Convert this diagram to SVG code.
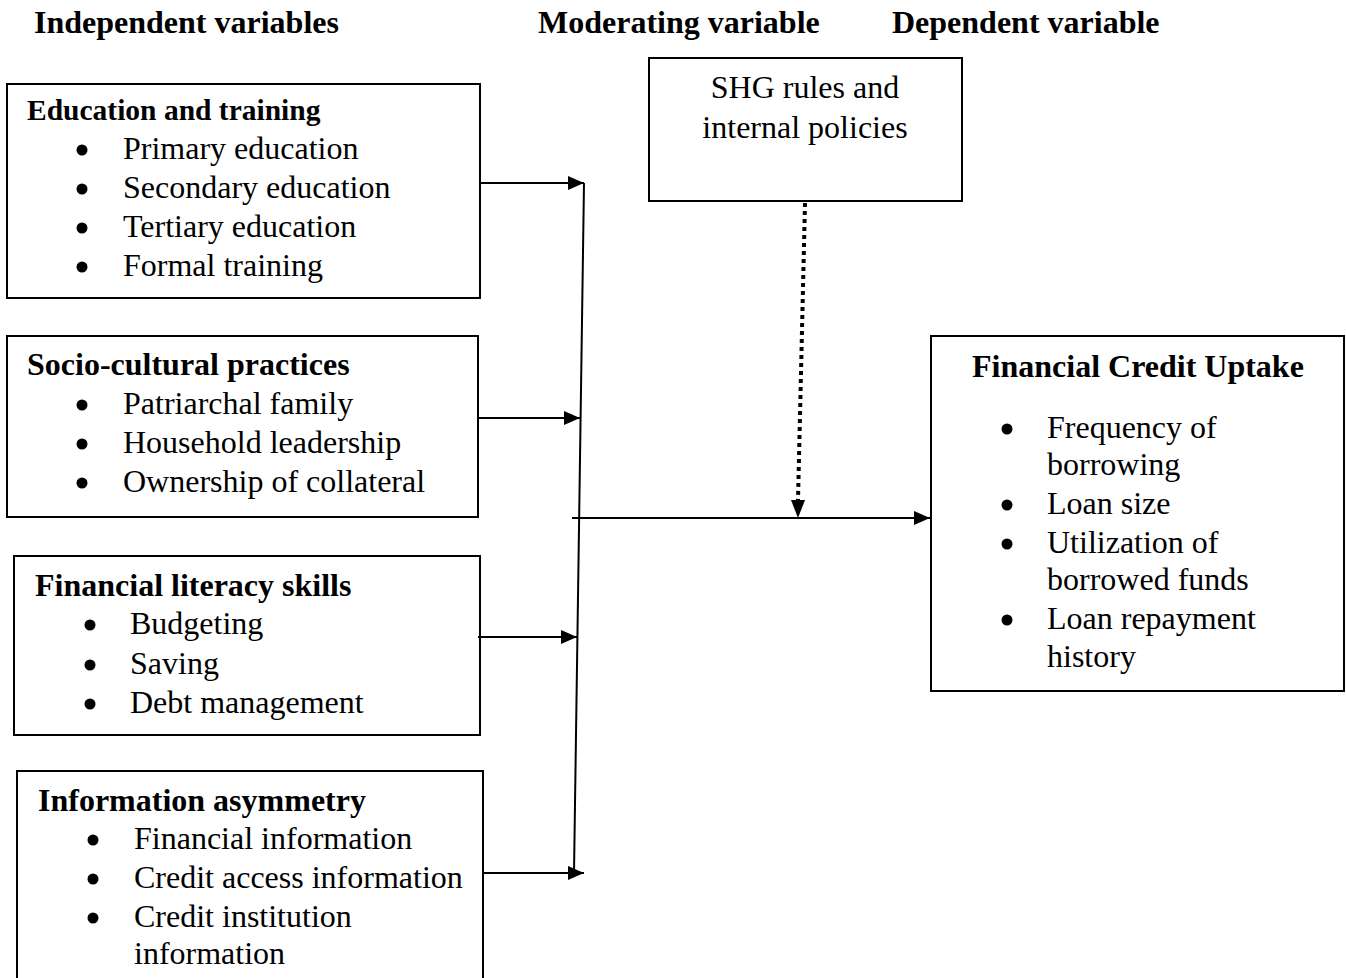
<svg xmlns="http://www.w3.org/2000/svg" width="1346" height="978" viewBox="0 0 1346 978">
<style>
text{font-family:"Liberation Serif","Times New Roman",serif;font-size:32px;fill:#000}
.b{font-weight:bold}
.bul{fill:#000}
.box{fill:#fff;stroke:#000;stroke-width:2}
.ln{stroke:#000;stroke-width:2;fill:none}
.dot{stroke:#000;stroke-width:4;fill:none;stroke-dasharray:4 4}
</style>
<defs>
<marker id="ah" markerWidth="16" markerHeight="14" refX="16" refY="7" orient="auto" markerUnits="userSpaceOnUse">
<path d="M0,0 L16,7 L0,14 Z" fill="#000"/>
</marker>
</defs>
<rect width="1346" height="978" fill="#fff"/>
<g id="headers">
<text class="b" x="34" y="33">Independent variables</text>
<text class="b" x="538" y="33">Moderating variable</text>
<text class="b" x="892" y="33">Dependent variable</text>
</g>
<g id="education">
<rect class="box" x="7" y="84" width="473" height="214"/>
<text class="b" x="27" y="120" style="font-size:29.5px">Education and training</text>
<circle class="bul" cx="82" cy="150" r="5.5"/><text x="123" y="159">Primary education</text>
<circle class="bul" cx="82" cy="189" r="5.5"/><text x="123" y="198">Secondary education</text>
<circle class="bul" cx="82" cy="228" r="5.5"/><text x="123" y="237">Tertiary education</text>
<circle class="bul" cx="82" cy="267" r="5.5"/><text x="123" y="276">Formal training</text>
</g>
<g id="socio">
<rect class="box" x="7" y="336" width="471" height="181"/>
<text class="b" x="27" y="375">Socio-cultural practices</text>
<circle class="bul" cx="82" cy="405" r="5.5"/><text x="123" y="414">Patriarchal family</text>
<circle class="bul" cx="82" cy="444" r="5.5"/><text x="123" y="453">Household leadership</text>
<circle class="bul" cx="82" cy="483" r="5.5"/><text x="123" y="492">Ownership of collateral</text>
</g>
<g id="literacy">
<rect class="box" x="14" y="556" width="466" height="179"/>
<text class="b" x="35" y="596">Financial literacy skills</text>
<circle class="bul" cx="90" cy="625" r="5.5"/><text x="130" y="634">Budgeting</text>
<circle class="bul" cx="90" cy="665" r="5.5"/><text x="130" y="674">Saving</text>
<circle class="bul" cx="90" cy="704" r="5.5"/><text x="130" y="713">Debt management</text>
</g>
<g id="asymmetry">
<rect class="box" x="17" y="771" width="466" height="220"/>
<text class="b" x="38" y="811">Information asymmetry</text>
<circle class="bul" cx="93" cy="840" r="5.5"/><text x="134" y="849">Financial information</text>
<circle class="bul" cx="93" cy="879" r="5.5"/><text x="134" y="888">Credit access information</text>
<circle class="bul" cx="93" cy="918" r="5.5"/><text x="134" y="927">Credit institution</text>
<text x="134" y="964">information</text>
</g>
<g id="shg">
<rect class="box" x="649" y="58" width="313" height="143"/>
<text x="805" y="98" text-anchor="middle">SHG rules and</text>
<text x="805" y="138" text-anchor="middle">internal policies</text>
</g>
<g id="uptake">
<rect class="box" x="931" y="336" width="413" height="355"/>
<text class="b" x="972" y="377">Financial Credit Uptake</text>
<circle class="bul" cx="1007" cy="429" r="5.5"/><text x="1047" y="438">Frequency of</text>
<text x="1047" y="475">borrowing</text>
<circle class="bul" cx="1007" cy="505" r="5.5"/><text x="1047" y="514">Loan size</text>
<circle class="bul" cx="1007" cy="544" r="5.5"/><text x="1047" y="553">Utilization of</text>
<text x="1047" y="590">borrowed funds</text>
<circle class="bul" cx="1007" cy="620" r="5.5"/><text x="1047" y="629">Loan repayment</text>
<text x="1047" y="667">history</text>
</g>
<g id="connectors">
<line class="ln" x1="584" y1="183" x2="574" y2="873"/>
<line class="ln" x1="481" y1="183" x2="584" y2="183" marker-end="url(#ah)"/>
<line class="ln" x1="479" y1="418" x2="580" y2="418" marker-end="url(#ah)"/>
<line class="ln" x1="478" y1="637" x2="577" y2="637" marker-end="url(#ah)"/>
<line class="ln" x1="484" y1="873" x2="584" y2="873" marker-end="url(#ah)"/>
<line class="ln" x1="572" y1="518" x2="930" y2="518" marker-end="url(#ah)"/>
<line class="dot" x1="805" y1="203" x2="798" y2="500"/>
<path d="M791,500 L805,500 L798,518 Z" fill="#000"/>
</g>
</svg>
